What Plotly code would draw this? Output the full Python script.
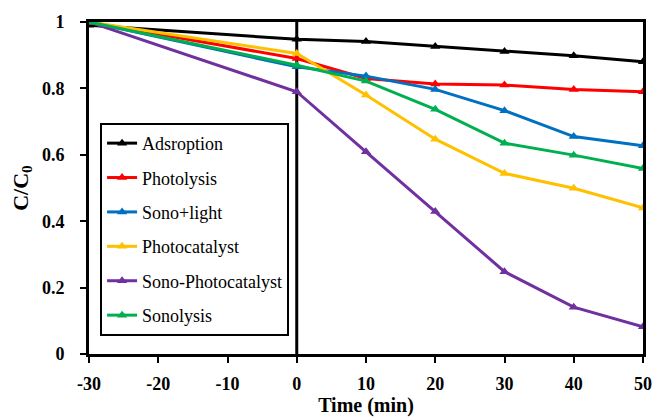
import plotly.graph_objects as go

time = [-30, 0, 10, 20, 30, 40, 50]
adsorption = [0.99, 0.948, 0.941, 0.926, 0.911, 0.898, 0.880]
photolysis = [1.0, 0.89, 0.83, 0.813, 0.81, 0.797, 0.79]
sono_light = [1.0, 0.865, 0.837, 0.797, 0.733, 0.655, 0.627]
photocatalyst = [1.0, 0.905, 0.78, 0.647, 0.544, 0.499, 0.440]
sono_photocatalyst = [1.0, 0.79, 0.609, 0.429, 0.248, 0.141, 0.082]
sonolysis = [1.0, 0.87, 0.822, 0.737, 0.635, 0.599, 0.559]

x_tickvals = [-30, -20, -10, 0, 10, 20, 30, 40, 50]
x_ticktext = ["-30", "-20", "-10", "0", "10", "20", "30", "40", "50"]
y_tickvals = [0, 0.2, 0.4, 0.6, 0.8, 1]
y_ticktext = ["0", "0.2", "0.4", "0.6", "0.8", "1"]

series = [
    ("Adsroption", adsorption, "#000000"),
    ("Photolysis", photolysis, "#FF0000"),
    ("Sono+light", sono_light, "#0070C0"),
    ("Photocatalyst", photocatalyst, "#FFC000"),
    ("Sono-Photocatalyst", sono_photocatalyst, "#7030A0"),
    ("Sonolysis", sonolysis, "#00B050"),
]

fig = go.Figure()
for i, (name, vals, col) in enumerate(series):
    fig.add_trace(go.Scatter(
        x=time, y=vals, name=name, mode="lines+markers",
        line=dict(color=col, width=3),
        marker=dict(symbol="triangle-up", size=9, color=col),
        legendgroup=f"g{i}",
    ))

fig.add_shape(type="line", x0=0, x1=0, y0=0, y1=1, xref="x", yref="y",
              line=dict(color="black", width=3), layer="below")

tickfont = dict(family="Liberation Serif", size=18, color="black", weight="bold")
fig.update_layout(
    width=654, height=418,
    margin=dict(l=89, r=11, t=22, b=64, autoexpand=False),
    plot_bgcolor="white", paper_bgcolor="white",
    showlegend=True,
    legend=dict(
        x=0.02, y=0.696, xanchor="left", yanchor="top",
        bgcolor="white", bordercolor="black", borderwidth=2,
        font=dict(family="Liberation Serif", size=18, color="black"),
        traceorder="grouped", tracegroupgap=8,
        itemwidth=30,
    ),
    xaxis=dict(
        range=[-30, 50], tickmode="array", tickvals=x_tickvals, ticktext=x_ticktext,
        showline=True, linecolor="black", linewidth=3, mirror=True,
        ticks="outside", ticklen=6, tickwidth=2, tickcolor="black",
        showgrid=False, zeroline=False, automargin=False,
        tickfont=tickfont, ticklabelstandoff=5,
        title=dict(text="Time (min)", standoff=4,
                   font=dict(family="Liberation Serif", size=20, color="black", weight="bold")),
    ),
    yaxis=dict(
        range=[0, 1], tickmode="array", tickvals=y_tickvals, ticktext=y_ticktext,
        showline=True, linecolor="black", linewidth=3, mirror=True,
        ticks="outside", ticklen=6, tickwidth=2, tickcolor="black",
        showgrid=False, zeroline=False, automargin=False,
        tickfont=tickfont, ticklabelstandoff=12,
        title=dict(text="C/C<sub>0</sub>", standoff=8,
                   font=dict(family="Liberation Serif", size=22, color="black", weight="bold")),
    ),
)

fig.write_html("out.html")
